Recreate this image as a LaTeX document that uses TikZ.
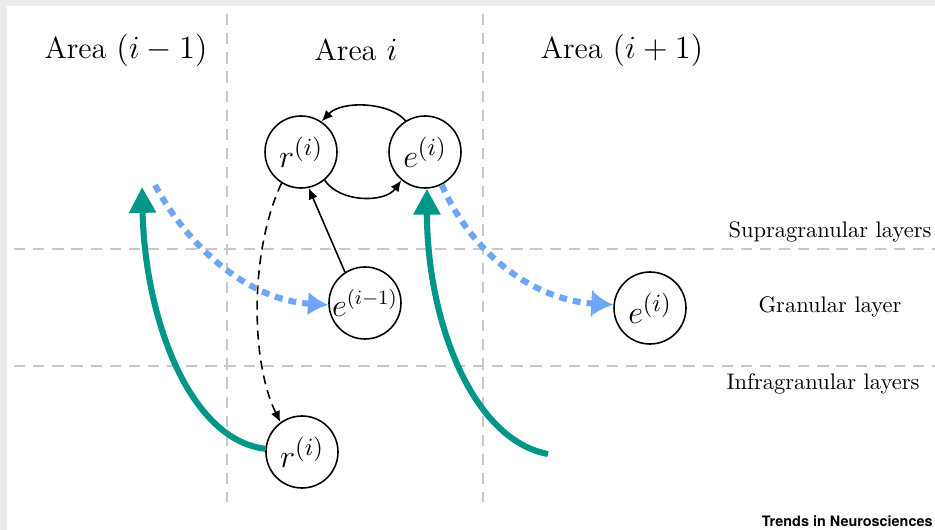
\documentclass[tikz,border=0pt]{standalone}
\usepackage{fontspec}
\newfontfamily\trendsfont{TeX Gyre Heros}
\usetikzlibrary{arrows.meta}
\definecolor{frame}{RGB}{235,235,237}
\definecolor{gridgrey}{RGB}{200,200,200}
\definecolor{teal}{RGB}{0,150,136}
\definecolor{fbblue}{RGB}{110,165,247}
\tikzset{
  nd/.style={circle,draw=black,line width=0.7pt,minimum size=32pt,inner sep=0pt,font=\fontsize{15.5}{18}\selectfont},
  gridline/.style={draw=gridgrey,line width=0.8pt,dash pattern=on 5pt off 3.5pt},
  conn/.style={draw=black,line width=0.7pt,-{Latex[length=5pt,width=4.2pt]}},
  ffwd/.style={draw=teal,line width=2.7pt,-{Triangle[length=11.5pt,width=11.5pt]}},
  fback/.style={draw=fbblue,line width=2.7pt,dash pattern=on 3.5pt off 2.7pt},
  fbtip/.style={-{Latex[length=9pt,width=10.5pt]}},
  fbbartip/.style={-{Bar[width=11.5pt,line width=0.8pt]Latex[length=9pt,width=10.5pt]}},
  title/.style={font=\fontsize{13.5}{16}\selectfont},
  layer/.style={font=\normalsize}
}
\begin{document}
\begin{tikzpicture}[x=0.4444pt,y=-0.4444pt]
\useasboundingbox (0,0) rectangle (935,530);
\fill[frame] (0,0) rectangle (935,530);
\fill[white] (7,6) rectangle (935,530);
% grid
\draw[gridline] (227,14) -- (227,502);
\draw[gridline] (483,14) -- (483,502);
\draw[gridline] (14,249) -- (935,249);
\draw[gridline] (14,366) -- (935,366);
% titles
\node[title] (t1) at (126,50) {Area $(i-1)$};
\node[title] (t2) at (356,50) {Area $i$};
\node[title] (t3) at (622,50) {Area $(i+1)$};
% layers
\node[layer] (l1) at (830,232) {Supragranular layers};
\node[layer] (l2) at (830,307) {Granular layer};
\node[layer] (l3) at (823,384) {Infragranular layers};
% nodes
\node[nd] (r1) at (301,152) {$r^{(i)}$};
\node[nd] (e1) at (425,152) {$e^{(i)}$};
\node[nd,font=\fontsize{13.5}{16}\selectfont] (e2) at (365,303) {$e^{(i-1)}$};
\node[nd] (e3) at (650,308) {$e^{(i)}$};
\node[nd] (r3) at (302,452) {$r^{(i)}$};
% free ends
\coordinate (bl) at (155,185);
\coordinate (tl) at (142,187);
\coordinate (tr) at (548,454);
% black connectors
\draw[conn] (e1.122) .. controls (390,102) and (342,100) .. (r1.56);
\draw[conn] (r1.-50) .. controls (340,203) and (385,203) .. (e1.-130);
\draw[conn] (e2.123) -- (r1.-78);
\draw[conn,dash pattern=on 4pt off 2.7pt] (r1.-122) .. controls (250,250) and (250,360) .. (r3.126);
% feedforward (teal)
\draw[ffwd] (r3.175) .. controls (190,440) and (145,320) .. (tl);
\draw[ffwd] (tr) .. controls (472,440) and (427,320) .. (e1.-87);
% feedback (blue)
\draw[fback,fbtip] (bl) .. controls (190,250) and (250,300) .. (e2.183);
\draw[fback,fbbartip] (e1.-63) .. controls (470,250) and (530,300) .. (e3.175);
% logo
\node[anchor=east,inner sep=0pt,font=\trendsfont\bfseries\fontsize{6.4}{7}\selectfont] (logo) at (933,521) {Trends in Neurosciences};
\end{tikzpicture}
\end{document}
